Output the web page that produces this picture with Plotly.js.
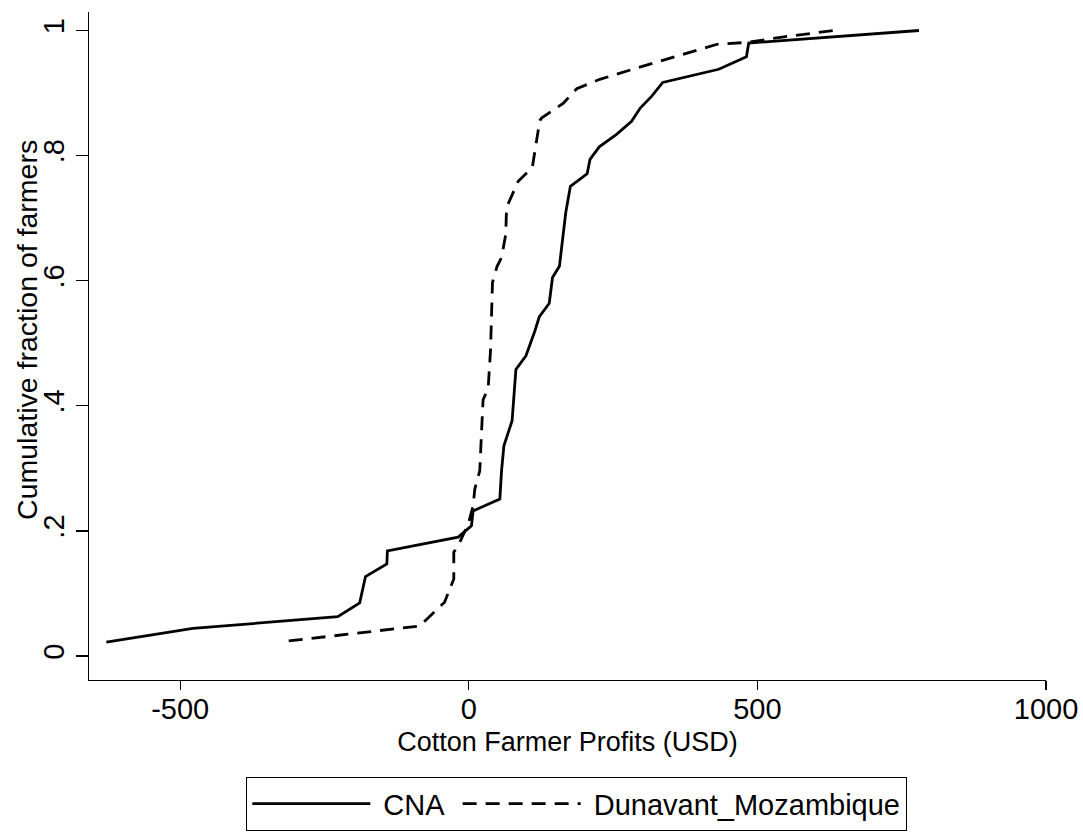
<!DOCTYPE html>
<html>
<head>
<meta charset="utf-8">
<script src="https://cdn.plot.ly/plotly-3.0.1.min.js"></script>
<style>html,body{margin:0;padding:0;background:#fff;}#chart{width:1083px;height:833px;}</style>
</head>
<body>
<div id="chart"></div>
<script>
// CNA cumulative distribution (profit in USD, cumulative fraction)
var cnaProfit = [-628, -478, -227, -189, -179, -142, -141, -18.5, 4.6, 7.5, 53.8, 56.7, 60.8, 75, 81.6, 99, 114.6, 122, 139.4, 145, 157, 162, 168, 176, 205, 210, 226, 256, 282, 297, 317, 336, 433, 481, 485, 780];
var cnaFrac = [0.022, 0.044, 0.063, 0.085, 0.127, 0.147, 0.168, 0.190, 0.208, 0.232, 0.251, 0.296, 0.336, 0.376, 0.458, 0.480, 0.520, 0.542, 0.564, 0.605, 0.623, 0.666, 0.709, 0.751, 0.771, 0.794, 0.814, 0.834, 0.855, 0.876, 0.895, 0.917, 0.938, 0.958, 0.980, 1.0];

// Dunavant_Mozambique cumulative distribution
var dunProfit = [-312, -85, -42, -26, -26, -18, -1, 7.5, 10.4, 19, 22, 24.8, 33.5, 37.7, 41, 49, 56.8, 64, 65.4, 85.6, 110, 123, 126, 164, 187, 227, 291, 372, 430, 482, 546, 633];
var dunFrac = [0.024, 0.048, 0.086, 0.123, 0.166, 0.177, 0.211, 0.240, 0.267, 0.296, 0.357, 0.41, 0.427, 0.49, 0.597, 0.623, 0.637, 0.674, 0.717, 0.759, 0.781, 0.856, 0.860, 0.884, 0.907, 0.922, 0.940, 0.962, 0.978, 0.981, 0.990, 1.0];

var seriesNames = ['CNA', 'Dunavant_Mozambique'];
var xTickVals = [-500, 0, 500, 1000];
var xTickText = ['-500', '0', '500', '1000'];
var yTickVals = [0, 0.2, 0.4, 0.6, 0.8, 1];
var yTickText = ['0', '.2', '.4', '.6', '.8', '1'];

var FONT = 'Liberation Sans, Arial, Helvetica, sans-serif';
var NB = '\u00A0';

var traces = [
  {x: cnaProfit, y: cnaFrac, type: 'scatter', mode: 'lines', name: NB + seriesNames[0] + NB,
   line: {color: '#000', width: 2.8}},
  {x: dunProfit, y: dunFrac, type: 'scatter', mode: 'lines', name: NB + seriesNames[1],
   line: {color: '#000', width: 2.8, dash: '14px,9px'}}
];

var layout = {
  width: 1083, height: 833,
  margin: {l: 89, r: 37, t: 12, b: 153},
  paper_bgcolor: '#fff', plot_bgcolor: '#fff',
  font: {family: FONT, size: 28, color: '#000'},
  showlegend: true,
  xaxis: {
    range: [-658, 1000], tickvals: xTickVals, ticktext: xTickText,
    ticks: 'outside', ticklen: 9, tickwidth: 1.3, tickcolor: '#000',
    ticklabelstandoff: -6,
    showline: true, linecolor: '#000', linewidth: 1.3,
    showgrid: false, zeroline: false,
    tickfont: {family: FONT, size: 29, color: '#000'},
    title: {text: 'Cotton Farmer Profits (USD)', font: {family: FONT, size: 27, color: '#000'}, standoff: 8}
  },
  yaxis: {
    range: [-0.0384, 1.0296], tickvals: yTickVals, ticktext: yTickText,
    ticks: 'outside', ticklen: 12, tickwidth: 1.3, tickcolor: '#000', tickangle: -90,
    showline: true, linecolor: '#000', linewidth: 1.3,
    showgrid: false, zeroline: false,
    tickfont: {family: FONT, size: 29, color: '#000'}
  },
  annotations: [{
    text: 'Cumulative fraction of farmers', xref: 'paper', yref: 'paper',
    x: -0.0648, y: 0.524, xanchor: 'center', yanchor: 'middle', textangle: -90,
    showarrow: false, font: {family: FONT, size: 28.5, color: '#000'}
  }],
  legend: {
    orientation: 'h', xref: 'paper', x: 0.5094, xanchor: 'center',
    yref: 'container', y: 0.0672, yanchor: 'top',
    bordercolor: '#000', borderwidth: 1.3, bgcolor: '#fff',
    font: {family: FONT, size: 29, color: '#000'},
    itemwidth: 118, itemclick: false
  }
};

Plotly.newPlot('chart', traces, layout, {displayModeBar: false, staticPlot: true});
</script>
</body>
</html>
